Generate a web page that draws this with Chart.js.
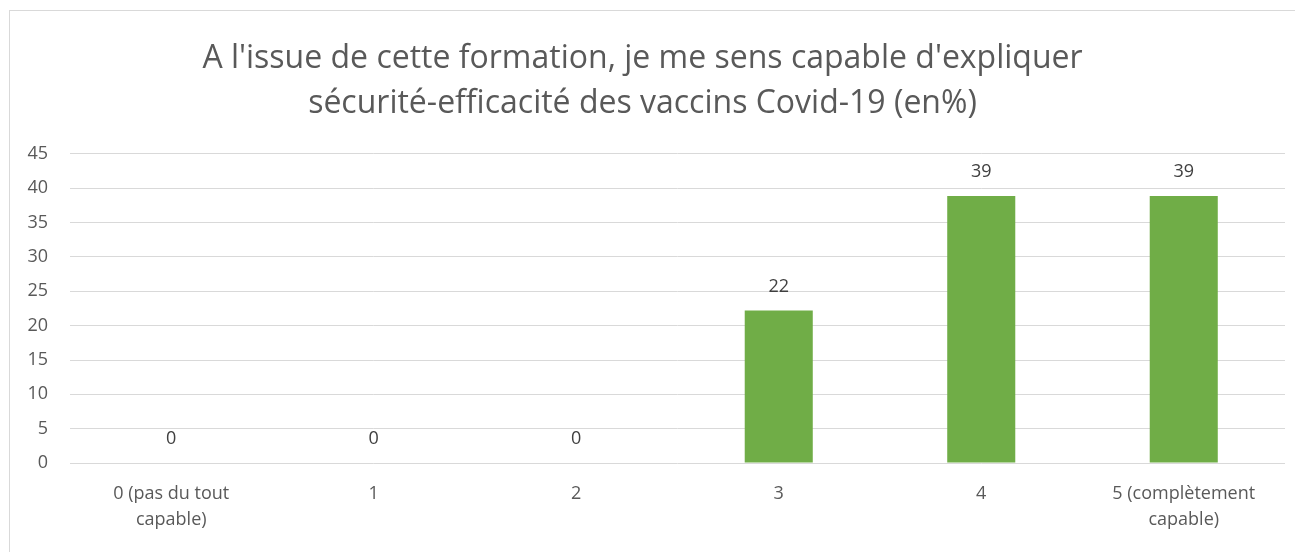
<!DOCTYPE html>
<html>
<head>
<meta charset="utf-8">
<script src="https://cdn.jsdelivr.net/npm/chart.js@4.4.1/dist/chart.umd.min.js"></script>
<style>
html,body{margin:0;padding:0;background:#fff;}
#wrap{position:relative;width:1295px;height:552px;}
</style>
</head>
<body>
<div id="wrap"><canvas id="c" width="1295" height="552"></canvas></div>
<script>
const categories = [["0 (pas du tout","capable)"], "1", "2", "3", "4", ["5 (complètement","capable)"]];
const values = [0, 0, 0, 22.2, 38.9, 38.9];
const yTicks = [0, 5, 10, 15, 20, 25, 30, 35, 40, 45];
const titleLines = ["A l'issue de cette formation, je me sens capable d'expliquer", "sécurité-efficacité des vaccins Covid-19 (en%)"];

const FONT = "'Open Sans', Lato, sans-serif";

const borderPlugin = {
  id: 'frame',
  beforeDraw(chart) {
    const ctx = chart.ctx;
    ctx.save();
    ctx.fillStyle = '#fff';
    ctx.fillRect(0, 0, chart.width, chart.height);
    ctx.strokeStyle = '#d9d9d9';
    ctx.lineWidth = 1;
    ctx.strokeRect(9.5, 10.5, chart.width + 10, chart.height + 10);
    ctx.restore();
  }
};

const labelPlugin = {
  id: 'valueLabels',
  afterDatasetsDraw(chart) {
    const ctx = chart.ctx;
    const meta = chart.getDatasetMeta(0);
    ctx.save();
    ctx.font = "18px " + FONT;
    ctx.fillStyle = '#404040';
    ctx.textAlign = 'center';
    ctx.textBaseline = 'middle';
    meta.data.forEach((bar, i) => {
      const v = chart.data.datasets[0].data[i];
      ctx.fillText(String(Math.round(v)), bar.x, bar.y - 24);
    });
    ctx.restore();
  }
};

new Chart(document.getElementById('c'), {
  type: 'bar',
  data: {
    labels: categories,
    datasets: [{
      data: values,
      backgroundColor: '#70AD47',
      borderWidth: 0,
      barPercentage: 0.336,
      categoryPercentage: 1.0
    }]
  },
  options: {
    responsive: false,
    animation: false,
    devicePixelRatio: 1,
    layout: { padding: { left: 0, right: 10, top: 0, bottom: 1 } },
    plugins: {
      legend: { display: false },
      tooltip: { enabled: false },
      title: {
        display: true,
        text: titleLines,
        color: '#595959',
        font: { family: FONT, size: 32, weight: 'normal', lineHeight: 1.406 },
        padding: { top: 36, bottom: 28 }
      }
    },
    scales: {
      x: {
        grid: { display: false, drawTicks: false },
        border: { display: false },
        ticks: {
          color: '#595959',
          font: { family: FONT, size: 18, lineHeight: 1.444 },
          padding: 18,
          maxRotation: 0,
          autoSkip: false
        }
      },
      y: {
        min: 0,
        max: 45,
        afterBuildTicks(scale) { scale.ticks = yTicks.map(v => ({ value: v })); },
        afterFit(scale) { scale.width = 70; },
        grid: { color: '#d9d9d9', lineWidth: 1, drawTicks: false },
        border: { display: false },
        ticks: {
          color: '#595959',
          font: { family: FONT, size: 18 },
          padding: 22
        }
      }
    }
  },
  plugins: [borderPlugin, labelPlugin]
});
</script>
</body>
</html>
